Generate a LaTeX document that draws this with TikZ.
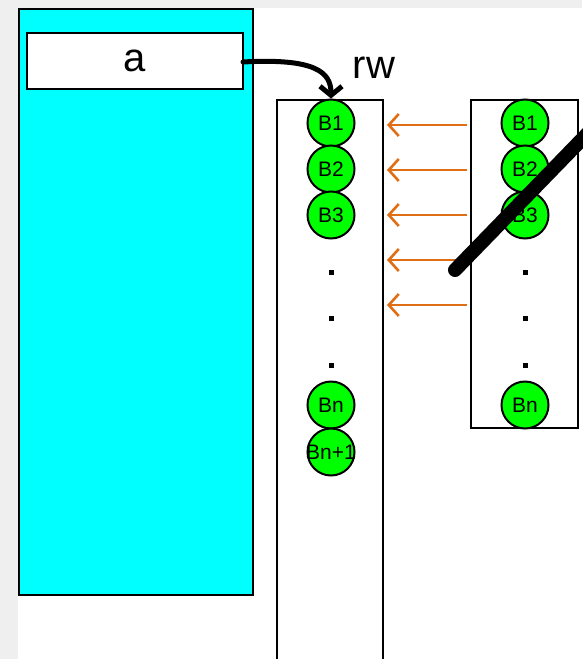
\documentclass[tikz,border=0pt]{standalone}
\usepackage{fontspec}
\setmainfont{Liberation Sans}
\usetikzlibrary{arrows.meta}
\definecolor{cyanfill}{RGB}{0,255,255}
\definecolor{greenfill}{RGB}{0,255,0}
\definecolor{orangearr}{RGB}{224,110,20}
\definecolor{bgray}{RGB}{239,239,239}
\tikzset{
  ball/.style={circle,draw=black,line width=2pt,fill=greenfill,minimum size=47pt,inner sep=0pt,font=\fontsize{21}{21}\selectfont},
  balltext/.style={inner sep=0pt,font=\fontsize{21}{21}\selectfont},
  dotn/.style={inner sep=0pt,minimum size=5pt,fill=black},
  listbox/.style={draw=black,line width=2.5pt,fill=white},
  copyarr/.style={draw=orangearr,line width=2.6pt,-{Straight Barb[length=10pt,width=22pt,line width=2.6pt]}},
}
\begin{document}
\begin{tikzpicture}[x=1pt,y=-1pt]
\useasboundingbox (0,0) rectangle (582,659);
\fill[white] (0,0) rectangle (582,659);
\fill[bgray] (0,0) rectangle (582,8);
\fill[bgray] (0,0) rectangle (18,659);
% cyan block
\draw[line width=2.5pt,fill=cyanfill] (19,9) rectangle (253,595);
\node[draw=black,line width=2.5pt,fill=white,minimum width=216pt,minimum height=56pt,inner sep=0pt,font=\fontsize{40}{40}\selectfont] (a) at (135,61) {a};
% left list
\draw[listbox] (277,100) rectangle (383,670);
\node[ball] (L1) at (331,123) {B1};
\node[ball] (L2) at (331,169) {B2};
\node[ball] (L3) at (331,215) {B3};
\node[dotn] (Ld1) at (331,272) {};
\node[dotn] (Ld2) at (331,318) {};
\node[dotn] (Ld3) at (331,365) {};
\node[ball] (Ln) at (331,405) {Bn};
\node[ball] (Ln1) at (331,452) {};
\node[balltext] (Ln1t) at (Ln1.center) {Bn+1};
% right list
\draw[listbox] (471,100) rectangle (578,428);
\node[ball] (R1) at (525,123) {B1};
\node[ball] (R2) at (525,169) {B2};
\node[ball] (R3) at (525,215) {B3};
\node[dotn] (Rd1) at (525,272) {};
\node[dotn] (Rd2) at (525,318) {};
\node[dotn] (Rd3) at (525,365) {};
\node[ball] (Rn) at (525,405) {Bn};
% orange arrows
\foreach \y [count=\i] in {125,170,215,260,305}{
  \coordinate (s\i) at (467,\y);
  \coordinate (t\i) at (387,\y);
  \draw[copyarr] (s\i) -- (t\i);
}
% thick slash
\coordinate (k1) at (455,270);
\coordinate (k2) at (590,131);
\draw[line width=14pt,line cap=round] (k1) -- (k2);
% rw arrow
\coordinate (a0) at (243,62);
\draw[line width=5pt,line cap=round,-{Straight Barb[length=9pt,width=22pt,line width=5pt]}] (a0) .. controls (315,58) and (331,72) .. (L1.north);
\node[font=\fontsize{40}{40}\selectfont] (rw) at (374,68) {rw};
\end{tikzpicture}
\end{document}
